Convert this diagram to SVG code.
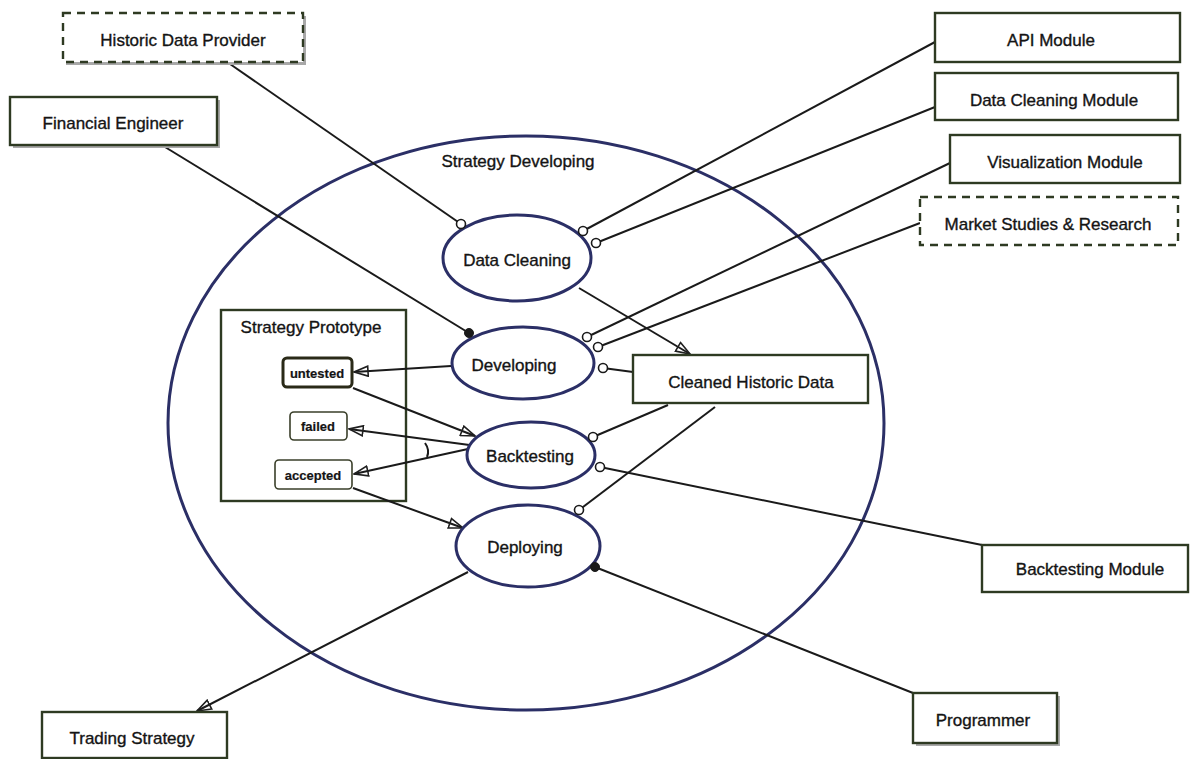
<svg xmlns="http://www.w3.org/2000/svg" width="1195" height="759" viewBox="0 0 1195 759">
  <defs>
    <marker id="open-arrow" viewBox="0 0 16 12" refX="15" refY="6" markerWidth="16" markerHeight="12" markerUnits="userSpaceOnUse" orient="auto">
      <path d="M1,1 L15,6 L1,11 Z" fill="none" stroke="#1f1f1f" stroke-width="1.6" stroke-linejoin="miter"/>
    </marker>
  </defs>
  <style>
    text { font-family: "Liberation Sans", Arial, sans-serif; fill: #141414; stroke: #141414; stroke-width: 0.35; text-anchor: middle; dominant-baseline: central; }
    .lbl { font-size: 17px; }
    .small { font-size: 13px; font-weight: bold; stroke-width: 0.2; }
    .box { fill: #ffffff; stroke: #2e3a22; stroke-width: 2.4; }
    .dashed { fill: #ffffff; stroke: #2e3a22; stroke-width: 2.4; stroke-dasharray: 8 6; }
    .shadow { fill: #a8a8a8; }
    .usecase { fill: #ffffff; stroke: #2b2f66; stroke-width: 3; }
    .state { fill: #ffffff; stroke: #3a3f2a; stroke-width: 1.6; }
    .state-init { fill: #ffffff; stroke: #2a2a18; stroke-width: 3; }
    .line { fill: none; stroke: #1a1a1a; stroke-width: 2; }
    .port { fill: #ffffff; stroke: #1a1a1a; stroke-width: 1.6; }
    .dot { fill: #1a1a1a; stroke: #1a1a1a; stroke-width: 1; }
  </style>
  <rect width="1195" height="759" fill="#ffffff"/>

  <!-- system boundary -->
  <g id="strategy-developing">
    <ellipse cx="526" cy="423" rx="358" ry="287" fill="none" stroke="#2b2f66" stroke-width="3"/>
    <text class="lbl" x="518" y="161">Strategy Developing</text>
  </g>

  <!-- state container -->
  <g id="strategy-prototype">
    <rect class="box" x="221" y="310" width="185" height="191"/>
    <text class="lbl" x="311" y="327">Strategy Prototype</text>
  </g>

  <!-- connectors -->
  <g id="connectors">
    <line class="line" x1="230" y1="64" x2="461" y2="224"/>
    <line class="line" x1="165" y1="147" x2="469" y2="333"/>
    <line class="line" x1="935" y1="42" x2="583" y2="231"/>
    <line class="line" x1="935" y1="107" x2="596" y2="243"/>
    <line class="line" x1="950" y1="163" x2="587" y2="337"/>
    <line class="line" x1="920" y1="223" x2="598" y2="347"/>
    <line class="line" x1="633" y1="372" x2="603" y2="368"/>
    <line class="line" x1="579" y1="288" x2="690" y2="354" marker-end="url(#open-arrow)"/>
    <line class="line" x1="451" y1="366" x2="354" y2="372" marker-end="url(#open-arrow)"/>
    <line class="line" x1="353" y1="388" x2="475" y2="436" marker-end="url(#open-arrow)"/>
    <line class="line" x1="477" y1="446" x2="349" y2="429" marker-end="url(#open-arrow)"/>
    <line class="line" x1="477" y1="447" x2="354" y2="474" marker-end="url(#open-arrow)"/>
    <path class="line" d="M425,443 Q430,450 427,457" stroke-width="1.4"/>
    <line class="line" x1="353" y1="488" x2="463" y2="528" marker-end="url(#open-arrow)"/>
    <line class="line" x1="668" y1="405" x2="593" y2="437"/>
    <line class="line" x1="715" y1="407" x2="579" y2="510"/>
    <line class="line" x1="982" y1="545" x2="600" y2="467"/>
    <line class="line" x1="913" y1="693" x2="595" y2="567"/>
    <line class="line" x1="468" y1="572" x2="197" y2="711" marker-end="url(#open-arrow)"/>
  </g>

  <!-- use cases -->
  <g id="data-cleaning">
    <ellipse class="usecase" cx="517" cy="258" rx="74" ry="43"/>
    <text class="lbl" x="517" y="260">Data Cleaning</text>
  </g>
  <g id="developing">
    <ellipse class="usecase" cx="523" cy="363" rx="71" ry="36"/>
    <text class="lbl" x="514" y="365">Developing</text>
  </g>
  <g id="backtesting">
    <ellipse class="usecase" cx="531" cy="455" rx="64" ry="33"/>
    <text class="lbl" x="530" y="456">Backtesting</text>
  </g>
  <g id="deploying">
    <ellipse class="usecase" cx="528" cy="546" rx="72" ry="41"/>
    <text class="lbl" x="525" y="547">Deploying</text>
  </g>

  <!-- prototype states -->
  <g id="untested">
    <rect class="state-init" x="283" y="358" width="69" height="29" rx="4"/>
    <text class="small" x="317" y="373">untested</text>
  </g>
  <g id="failed">
    <rect class="state" x="290" y="412" width="57" height="28" rx="4"/>
    <text class="small" x="318" y="426">failed</text>
  </g>
  <g id="accepted">
    <rect class="state" x="275" y="460" width="77" height="29" rx="4"/>
    <text class="small" x="313" y="475">accepted</text>
  </g>

  <!-- actors and artifacts -->
  <g id="historic-data-provider">
    <rect class="shadow" x="66" y="16" width="240" height="49"/>
    <rect class="dashed" x="63" y="13" width="240" height="49"/>
    <text class="lbl" x="183" y="40">Historic Data Provider</text>
  </g>
  <g id="financial-engineer">
    <rect class="shadow" x="13" y="100" width="207" height="48"/>
    <rect class="box" x="10" y="97" width="207" height="48"/>
    <text class="lbl" x="113" y="123">Financial Engineer</text>
  </g>
  <g id="api-module">
    <rect class="box" x="935" y="13" width="245" height="49"/>
    <text class="lbl" x="1051" y="40">API Module</text>
  </g>
  <g id="data-cleaning-module">
    <rect class="box" x="935" y="73" width="243" height="47"/>
    <text class="lbl" x="1054" y="100">Data Cleaning Module</text>
  </g>
  <g id="visualization-module">
    <rect class="box" x="950" y="135" width="230" height="48"/>
    <text class="lbl" x="1065" y="162">Visualization Module</text>
  </g>
  <g id="market-studies">
    <rect class="dashed" x="920" y="197" width="258" height="48"/>
    <text class="lbl" x="1048" y="224">Market Studies &amp; Research</text>
  </g>
  <g id="cleaned-historic-data">
    <rect class="box" x="633" y="355" width="235" height="48"/>
    <text class="lbl" x="751" y="382">Cleaned Historic Data</text>
  </g>
  <g id="backtesting-module">
    <rect class="box" x="982" y="545" width="206" height="47"/>
    <text class="lbl" x="1090" y="569">Backtesting Module</text>
  </g>
  <g id="programmer">
    <rect class="shadow" x="916" y="696" width="144" height="50"/>
    <rect class="box" x="913" y="693" width="144" height="50"/>
    <text class="lbl" x="983" y="720">Programmer</text>
  </g>
  <g id="trading-strategy">
    <rect class="box" x="42" y="712" width="185" height="46"/>
    <text class="lbl" x="132" y="738">Trading Strategy</text>
  </g>

  <!-- interface ends -->
  <g id="ports">
    <circle class="port" cx="461" cy="224" r="4.5"/>
    <circle class="port" cx="583" cy="231" r="4.5"/>
    <circle class="port" cx="596" cy="243" r="4.5"/>
    <circle class="port" cx="587" cy="337" r="4.5"/>
    <circle class="port" cx="598" cy="347" r="4.5"/>
    <circle class="port" cx="603" cy="368" r="4.5"/>
    <circle class="port" cx="593" cy="437" r="4.5"/>
    <circle class="port" cx="600" cy="467" r="4.5"/>
    <circle class="port" cx="579" cy="510" r="4.5"/>
    <circle class="dot" cx="469" cy="333" r="4.5"/>
    <circle class="dot" cx="595" cy="567" r="4.5"/>
  </g>
</svg>
